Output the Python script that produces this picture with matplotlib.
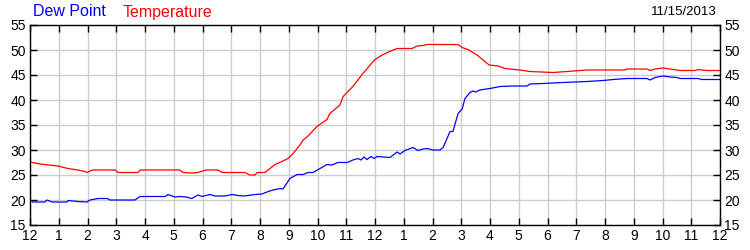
import matplotlib
matplotlib.use("Agg")
import matplotlib.pyplot as plt

plt.rcParams['font.family'] = ['Liberation Sans', 'DejaVu Sans']

# Hours since midnight and readings (deg F)
temp_hours = [0, 0.35, 0.97, 1.32, 1.67, 1.91, 1.98, 2.16, 2.96, 3.06, 3.76, 3.83, 5.22, 5.32, 5.63,
              5.84, 6.12, 6.54, 6.68, 7.48, 7.65, 7.83, 7.90, 8.17, 8.35, 8.52, 8.8, 8.97, 9.15, 9.39,
              9.5, 9.67, 9.98, 10.33, 10.43, 10.78, 10.89, 11.23, 11.58, 11.83, 12.0, 12.28, 12.63,
              12.77, 13.29, 13.46, 13.67, 13.81, 14.89, 15.03, 15.23, 15.55, 15.76, 15.97, 16.28,
              16.52, 17.04, 17.39, 18.19, 18.68, 19.37, 20.7, 20.77, 21.46, 21.57, 21.74, 22.02,
              22.26, 22.61, 23.13, 23.23, 23.55, 24.0]
temperature = [27.6, 27.2, 26.8, 26.3, 26.0, 25.7, 25.5, 26.0, 26.0, 25.5, 25.5, 26.0, 26.0, 25.5, 25.4,
               25.5, 26.0, 26.0, 25.5, 25.5, 25.0, 25.0, 25.5, 25.5, 26.3, 27.1, 27.8, 28.3, 29.3, 31.0,
               32.0, 32.8, 34.7, 36.1, 37.3, 39.0, 40.7, 42.7, 45.3, 47.0, 48.1, 49.1, 50.0,
               50.3, 50.3, 50.8, 50.9, 51.1, 51.1, 50.5, 50.1, 49.0, 48.0, 47.0, 46.8,
               46.3, 46.0, 45.7, 45.5, 45.7, 46.0, 46.0, 46.2, 46.2, 45.9, 46.2, 46.4,
               46.2, 45.9, 45.9, 46.1, 45.9, 45.9]

dew_hours = [0, 0.1, 0.52, 0.59, 0.77, 1.29, 1.32, 1.67, 1.98, 2.09, 2.37, 2.68, 2.78, 3.65, 3.83,
             4.7, 4.8, 5.04, 5.22, 5.43, 5.63, 5.84, 5.98, 6.26, 6.43, 6.78, 7.03, 7.23, 7.44, 7.83,
             8.07, 8.24, 8.45, 8.7, 8.8, 9.04, 9.29, 9.5, 9.67, 9.84, 10.09, 10.33, 10.5, 10.71,
             11.03, 11.23, 11.41, 11.51, 11.62, 11.72, 11.86, 11.97, 12.07, 12.52, 12.77, 12.87,
             13.04, 13.32, 13.5, 13.67, 13.81, 14.02, 14.26, 14.37, 14.61, 14.71, 14.89, 15.03,
             15.13, 15.3, 15.41, 15.5, 15.65, 16.0, 16.35, 16.8, 17.29, 17.39, 17.84, 18.54, 19.37,
             19.93, 20.28, 20.77, 21.46, 21.57, 21.74, 22.02, 22.26, 22.5, 22.61, 23.23, 23.37, 24.0]
dew_point = [20.0, 19.6, 19.6, 20.0, 19.6, 19.6, 19.9, 19.7, 19.6, 20.0, 20.3, 20.3, 20.0, 20.0, 20.7,
             20.7, 21.1, 20.6, 20.7, 20.6, 20.3, 21.0, 20.7, 21.1, 20.8, 20.8, 21.1, 20.9, 20.8, 21.1,
             21.2, 21.6, 22.0, 22.3, 22.2, 24.3, 25.1, 25.1, 25.5, 25.5, 26.3, 27.1, 27.0, 27.5,
             27.5, 28.0, 28.3, 28.0, 28.6, 28.1, 28.7, 28.3, 28.7, 28.5, 29.6, 29.2,
             29.9, 30.5, 29.9, 30.2, 30.3, 30.0, 30.0, 30.5, 33.7, 33.7, 37.3, 38.2,
             40.3, 41.5, 41.8, 41.6, 42.0, 42.3, 42.7, 42.8, 42.8, 43.2, 43.3, 43.5, 43.7,
             43.9, 44.1, 44.3, 44.3, 44.0, 44.5, 44.8, 44.6, 44.5, 44.3, 44.3, 44.1, 44.1]

x_tick_labels = ['12', '1', '2', '3', '4', '5', '6', '7', '8', '9', '10', '11',
                 '12', '1', '2', '3', '4', '5', '6', '7', '8', '9', '10', '11', '12']
y_ticks = [15, 20, 25, 30, 35, 40, 45, 50, 55]
date_text = '11/15/2013'

fig = plt.figure(figsize=(7.5, 2.5), dpi=100)
ax = fig.add_axes([0.04, 0.1, 0.92, 0.8])

ax.plot(temp_hours, temperature, color='#ff0000', lw=0.9)
ax.plot(dew_hours, dew_point, color='#0000ff', lw=0.9)

ax.set_xlim(0, 24)
ax.set_ylim(15, 55)
ax.set_xticks(range(25))
ax.set_xticklabels(x_tick_labels)
ax.set_yticks(y_ticks)
ax.grid(True, color='#cccccc', lw=1)
ax.set_axisbelow(True)
ax.tick_params(direction='in', length=5, width=1, labelsize=10, top=True, right=True,
               labelright=True, pad=3)
for s in ax.spines.values():
    s.set_linewidth(1)
    s.set_color('black')

fig.text(33 / 750, 1 - 12 / 250, 'Dew Point', color='#0000ff', fontsize=11.5, va='center', ha='left')
fig.text(123 / 750, 1 - 12 / 250, 'Temperature', color='#ff0000', fontsize=11.5, va='center', ha='left')
fig.text(717 / 750, 1 - 12 / 250, date_text, color='black', fontsize=9.5, va='center', ha='right')

fig.savefig('out.png', dpi=100)
